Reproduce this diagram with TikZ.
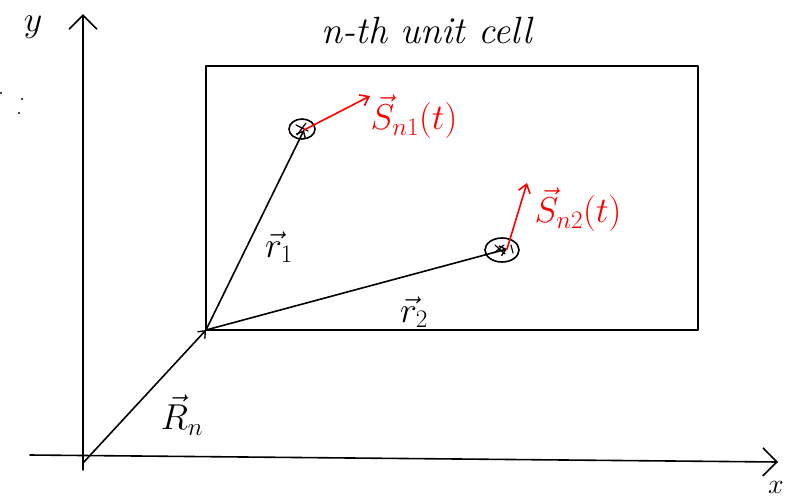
\documentclass[tikz,border=0pt]{standalone}
\usepackage{fix-cm}
\usepackage{amsmath}
\usetikzlibrary{arrows.meta,shapes.geometric}
\begin{document}
\begin{tikzpicture}[x=1pt,y=-1pt,
  ln/.style={line width=1.6pt,line cap=round,line join=round},
  vec/.style={ln,-{Straight Barb[length=6pt,width=10pt,line width=1.4pt]}},
  axis/.style={ln,-{Straight Barb[length=14pt,width=28pt,line width=1.6pt]}},
  spin/.style={ln,red,-{Straight Barb[length=8pt,width=12pt,line width=1.6pt]}},
  lab/.style={font=\fontsize{36}{40}\selectfont},
  rlab/.style={font=\fontsize{36}{40}\selectfont,text=red},
  scrib/.style={line width=1.2pt,line cap=round}]
\useasboundingbox (0,0) rectangle (801,501);
% axes
\coordinate (o) at (83,463);
\coordinate (ybot) at (83,470);
\coordinate (ytop) at (83,14);
\coordinate (xl) at (30,455);
\coordinate (xr) at (778,462);
\draw[axis] (ybot) -- (ytop);
\draw[axis] (xl) -- (xr);
\node[lab] (ylab) at (33,27) {$y$};
\node[font=\fontsize{28}{30}\selectfont] (xlab) at (776,487) {$x$};
% stray dots
\fill (1,93) circle (1.2pt);
\fill (22,99) circle (1.2pt);
\fill (19,113) circle (1.2pt);
% unit cell
\draw[ln] (206,66) rectangle (698,330);
\node[font=\fontsize{38}{42}\selectfont\itshape] (title) at (427,31) {n-th unit cell};
\coordinate (c) at (206,330);
% atoms
\node[ln,draw,ellipse,minimum width=26pt,minimum height=20pt,inner sep=0pt] (a1) at (302,129) {};
\node[ln,draw,ellipse,minimum width=34pt,minimum height=24pt,inner sep=0pt] (a2) at (502,250) {};
\draw[scrib] (a1.center) ++(-5,6) -- ++(9,-12) (a1.center) ++(-6,-4) -- ++(12,6);
\draw[scrib] (a2.center) ++(-8,3) -- ++(10,-8) (a2.center) ++(-7,-5) -- ++(10,9) (a2.center) ++(9,-5) -- ++(2,8);
\coordinate (a1c) at (304,130);
\coordinate (a2c) at (507,249);
% vectors
\draw[vec] (o) -- (c);
\draw[vec] (c) -- (a1c);
\draw[vec] (c) -- (a2c);
\node[lab] (Rn) at (182,415) {$\vec{R}_n$};
\node[lab] (r1) at (279,247) {$\vec{r}_1$};
\node[lab] (r2) at (414,312) {$\vec{r}_2$};
% spins
\coordinate (s1) at (370,96);
\coordinate (s2) at (527,183);
\draw[spin] (a1c) -- (s1);
\draw[spin] (a2c) -- (s2);
\node[rlab] (S1) at (414,117) {$\vec{S}_{n1}(t)$};
\node[rlab] (S2) at (578,210) {$\vec{S}_{n2}(t)$};
\end{tikzpicture}
\end{document}
